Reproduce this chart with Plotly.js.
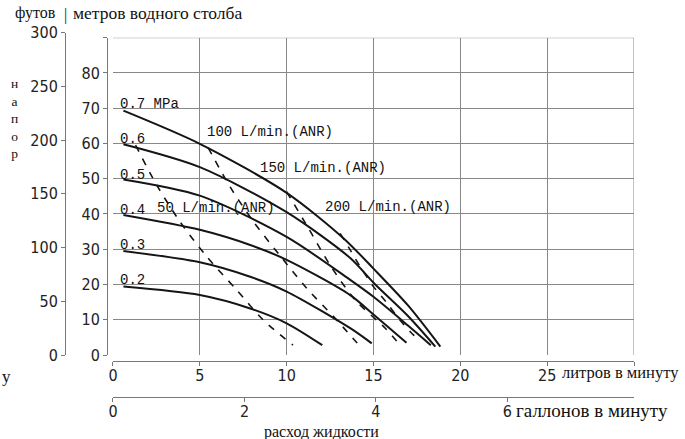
<!DOCTYPE html>
<html><head><meta charset="utf-8">
<script src="https://cdn.plot.ly/plotly-3.0.1.min.js"></script>
<style>html,body{margin:0;padding:0;background:#fff}#chart{width:685px;height:439px}</style>
</head><body><div id="chart"></div>
<script>
// ---- data (flow in L/min ANR-water, head in metres of water) ----
const lpmTicks = [0, 5, 10, 15, 20, 25, 30];
const lpmTickText = ['0', '5', '10', '15', '20', '25', ''];
const gpmTicks = [0, 2, 4, 6];
const mTicks = [0, 10, 20, 30, 40, 50, 60, 70, 80, 90];
const mTickText = ['0', '10', '20', '30', '40', '50', '60', '70', '80', ''];
const ftTicks = [0, 50, 100, 150, 200, 250, 300];

const pressureLabels = ['0.7 MPa', '0.6', '0.5', '0.4', '0.3', '0.2'];
const pressureLevels = [70, 60, 50, 40, 30, 20];

const p07x = [0.6, 5, 10, 13.3, 15, 17, 18.85];
const p07y = [69.3, 59.9, 46, 33, 24.5, 14, 2.4];
const p06x = [0.6, 5, 10, 13.66, 15, 17, 18.56];
const p06y = [59.8, 53.3, 40.5, 27.5, 20.5, 11, 2.4];
const p05x = [0.6, 5, 10, 13.66, 15, 17, 18.3];
const p05y = [49.8, 45.2, 33.5, 21.3, 16.5, 8.3, 2.8];
const p04x = [0.6, 5, 7.9, 10, 13.66, 15, 16.9];
const p04y = [39.7, 35.5, 31.2, 27, 17, 11.5, 3.5];
const p03x = [0.6, 5, 7.9, 10, 13.66, 14.9];
const p03y = [29.5, 26.3, 22.2, 18, 7.6, 3.3];
const p02x = [0.6, 5, 7.9, 10, 12.05];
const p02y = [19.4, 17.0, 13.2, 9.0, 2.8];

const flowLabels = ['50 L/min.(ANR)', '100 L/min.(ANR)', '150 L/min.(ANR)', '200 L/min.(ANR)'];
const f50x = [1.3, 2.52, 3.86, 5.4, 7.13, 8.66, 10.36];
const f50y = [59.5, 48.2, 37.8, 27.9, 18.4, 9.9, 2.8];
const f100x = [5.48, 6.74, 8.09, 9.63, 11.16, 12.7, 14.06];
const f100y = [58.8, 47.7, 37.8, 28.1, 18.9, 10.9, 3.4];
const f150x = [10.0, 11.26, 12.5, 13.95, 15.68, 16.44];
const f150y = [46.3, 35.9, 25.5, 15.6, 7.6, 3.3];
const f200x = [13.08, 13.66, 14.24, 15.0, 15.78, 16.44, 17.3, 17.7];
const f200y = [34.5, 29.8, 25, 19.4, 14.7, 10.4, 5.7, 4.2];

const LITRES_PER_GALLON = 3.78541;
const FEET_PER_METRE = 3.28084;
const X_MAX = 30, Y_MAX = 90;

// ---- styling ----
const TICK_FONT = {family: '"Liberation Sans Narrow", "DejaVu Sans Condensed", "Roboto Condensed", "Arial Narrow", sans-serif', size: 16, color: '#222'};
const MONO = {family: '"Liberation Mono", "DejaVu Sans Mono", monospace', size: 14, color: '#111'};
const SERIF = (s) => ({family: '"Liberation Serif", "DejaVu Serif", serif', size: s, color: '#111'});
const AXC = '#777', GRIDC = '#888';

const solid = (x, y) => ({x, y, type: 'scatter', mode: 'lines', line: {color: '#151515', width: 2, shape: 'spline', smoothing: 0.8}, hoverinfo: 'skip', showlegend: false});
const dashed = (x, y) => ({x, y, type: 'scatter', mode: 'lines', line: {color: '#151515', width: 1.6, dash: '7px,8px', shape: 'spline', smoothing: 0.8}, hoverinfo: 'skip', showlegend: false});

const data = [
  solid(p07x, p07y), solid(p06x, p06y), solid(p05x, p05y),
  solid(p04x, p04y), solid(p03x, p03y), solid(p02x, p02y),
  dashed(f50x, f50y), dashed(f100x, f100y), dashed(f150x, f150y), dashed(f200x, f200y),
  {x: [0], y: [0], xaxis: 'x2', yaxis: 'y2', type: 'scatter', mode: 'markers', marker: {opacity: 0}, hoverinfo: 'skip', showlegend: false}
];

// geometry (paper fractions)
const xDom = [0.0923, 1];
const yDom = [0.1658, 0.9753];
const yFtTop = yDom[0] + (300 / FEET_PER_METRE / Y_MAX) * (yDom[1] - yDom[0]);

const baseAx = {
  showline: true, linecolor: AXC, linewidth: 1,
  ticks: 'outside', ticklen: 4, tickcolor: AXC, tickwidth: 1,
  zeroline: false, tickfont: TICK_FONT, fixedrange: true, tickmode: 'array'
};

const annotations = [];
pressureLabels.forEach((t, i) => annotations.push({
  text: t, x: 0.29, y: pressureLevels[i], xref: 'x', yref: 'y',
  xanchor: 'left', yanchor: 'bottom', yshift: -6, showarrow: false, font: MONO
}));
const flowPos = [[2.42, 40.3], [5.3, 61.8], [8.36, 51.6], [12.1, 40.6]];
flowLabels.forEach((t, i) => annotations.push({
  text: t, x: flowPos[i][0], y: flowPos[i][1], xref: 'x', yref: 'y',
  xanchor: 'left', yanchor: 'bottom', yshift: -5, showarrow: false, font: MONO
}));
const P = (px) => (px - 60) / 574, Q = (py) => (420 - py) / 392;
annotations.push(
  {text: 'футов', x: P(58), y: Q(13), xref: 'paper', yref: 'paper', xanchor: 'right', yanchor: 'middle', showarrow: false, font: SERIF(16)},
  {text: '|', x: P(65), y: Q(15), xref: 'paper', yref: 'paper', xanchor: 'center', yanchor: 'middle', showarrow: false, font: SERIF(16)},
  {text: 'метров водного столба', x: P(71), y: Q(13), xref: 'paper', yref: 'paper', xanchor: 'left', yanchor: 'middle', showarrow: false, font: SERIF(17.5)},
  {text: 'литров в минуту', x: P(560), y: Q(372), xref: 'paper', yref: 'paper', xanchor: 'left', yanchor: 'middle', showarrow: false, font: SERIF(16.5)},
  {text: 'галлонов в минуту', x: P(514), y: Q(410), xref: 'paper', yref: 'paper', xanchor: 'left', yanchor: 'middle', showarrow: false, font: SERIF(19)},
  {text: 'расход жидкости', x: P(262), y: Q(432), xref: 'paper', yref: 'paper', xanchor: 'left', yanchor: 'middle', showarrow: false, font: SERIF(16)},
  {text: 'у', x: P(0), y: Q(376), xref: 'paper', yref: 'paper', xanchor: 'left', yanchor: 'middle', showarrow: false, font: SERIF(17)},
  {text: Array.from('напор').join('<br>'), x: P(14), y: Q(119), xref: 'paper', yref: 'paper', xanchor: 'center', yanchor: 'middle', showarrow: false, font: SERIF(13.5)}
);

const layout = {
  width: 685, height: 439,
  margin: {l: 60, r: 51, t: 28, b: 19, pad: 0},
  paper_bgcolor: '#fff', plot_bgcolor: 'rgba(0,0,0,0)',
  showlegend: false,
  xaxis: Object.assign({}, baseAx, {domain: xDom, range: [0, X_MAX], anchor: 'free', position: 0.1505,
    tickvals: lpmTicks, ticktext: lpmTickText, ticklabelstandoff: -4, showgrid: true, gridcolor: GRIDC, gridwidth: 1}),
  yaxis: Object.assign({}, baseAx, {domain: yDom, range: [0, Y_MAX], anchor: 'free', position: 0.0819,
    tickvals: mTicks, ticktext: mTickText, showgrid: true, gridcolor: GRIDC, gridwidth: 1}),
  xaxis2: Object.assign({}, baseAx, {domain: xDom, range: [0, X_MAX / LITRES_PER_GALLON], anchor: 'free', position: 0.0587,
    tickvals: gpmTicks, ticklabelstandoff: -4, showgrid: false}),
  yaxis2: Object.assign({}, baseAx, {domain: [yDom[0], yFtTop], range: [0, 300], anchor: 'free', position: 0.0087,
    tickvals: ftTicks, showgrid: false}),
  shapes: [
    {type: 'line', xref: 'x', yref: 'y', x0: 0, x1: X_MAX, y0: Y_MAX, y1: Y_MAX, line: {color: GRIDC, width: 1}},
    {type: 'line', xref: 'x', yref: 'y', x0: X_MAX, x1: X_MAX, y0: 0, y1: Y_MAX, line: {color: GRIDC, width: 1}}
  ],
  annotations: annotations
};

Plotly.newPlot('chart', data, layout, {displayModeBar: false, staticPlot: true});
</script></body></html>
